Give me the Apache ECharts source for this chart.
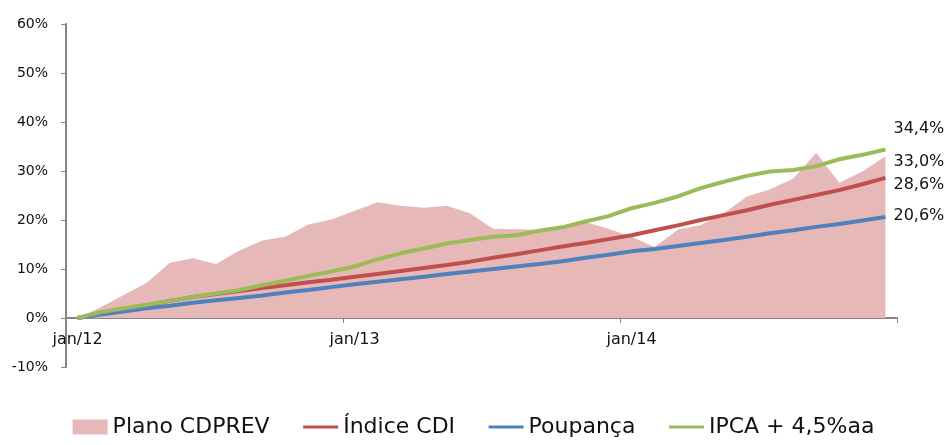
<!DOCTYPE html>
<html>
<head>
<meta charset="utf-8">
<script src="https://cdn.jsdelivr.net/npm/echarts@6/dist/echarts.min.js"></script>
<style>
  html, body { margin: 0; padding: 0; background: #fff; }
  #chart { width: 947px; height: 445px; }
</style>
</head>
<body>
<div id="chart"></div>
<script>
// meses jan/12 .. dez/14
const meses = ['jan','fev','mar','abr','mai','jun','jul','ago','set','out','nov','dez'];
const anos = ['12','13','14'];
const categorias = [];
anos.forEach(a => meses.forEach(m => categorias.push(m + '/' + a)));

// rentabilidade acumulada (%)
const planoCdprev = [0, 2.2, 4.7, 7.2, 11.3, 12.2, 11.0, 13.7, 15.8, 16.6, 19.1, 20.1,
  21.9, 23.6, 22.9, 22.5, 22.9, 21.4, 18.2, 18.1, 18.0, 18.8, 19.6, 18.2,
  16.6, 14.5, 18.0, 19.0, 21.4, 24.8, 26.3, 28.4, 33.7, 27.6, 29.9, 33.0];
const indiceCdi = [0, 0.9, 1.8, 2.6, 3.5, 4.3, 4.9, 5.5, 6.1, 6.7, 7.3, 7.8,
  8.4, 9.0, 9.6, 10.2, 10.8, 11.5, 12.3, 13.0, 13.8, 14.6, 15.3, 16.1,
  16.9, 17.9, 18.9, 20.0, 21.0, 22.0, 23.1, 24.1, 25.1, 26.1, 27.3, 28.6];
const poupanca = [0, 0.7, 1.3, 2.0, 2.5, 3.1, 3.6, 4.1, 4.6, 5.2, 5.7, 6.3,
  6.9, 7.4, 7.9, 8.4, 9.0, 9.5, 10.0, 10.5, 11.0, 11.6, 12.3, 12.9,
  13.6, 14.1, 14.7, 15.3, 15.9, 16.6, 17.3, 17.9, 18.6, 19.2, 19.9, 20.6];
const ipca = [0, 1.2, 2.0, 2.7, 3.5, 4.3, 5.0, 5.7, 6.7, 7.6, 8.6, 9.5,
  10.5, 12.0, 13.2, 14.2, 15.2, 15.9, 16.6, 16.9, 17.8, 18.5, 19.7, 20.8,
  22.4, 23.5, 24.8, 26.5, 27.8, 29.0, 29.9, 30.2, 31.0, 32.4, 33.3, 34.4];

const fonte = 'DejaVu Sans';
const fmt = v => v.toFixed(1).replace('.', ',') + '%';

const chart = echarts.init(document.getElementById('chart'));

function endLabel(dy) {
  return {
    show: true,
    formatter: p => fmt(p.value),
    offset: [2, dy],
    distance: 6,
    color: '#111',
    fontFamily: fonte,
    fontSize: 16
  };
}

// legenda: so a linha, sem o simbolo
const semSimbolo = { opacity: 0 };

const option = {
  animation: false,
  textStyle: { fontFamily: fonte },
  grid: { left: 66, right: 50, top: 24, bottom: 78, containLabel: false },
  legend: {
    bottom: 2,
    left: 'center',
    itemWidth: 35,
    itemHeight: 15,
    itemGap: 32,
    textStyle: { fontFamily: fonte, fontSize: 22, color: '#111' },
    data: [
      { name: 'Plano CDPREV', icon: 'rect' },
      { name: 'Índice CDI', itemStyle: semSimbolo, lineStyle: { width: 3 } },
      { name: 'Poupança', itemStyle: semSimbolo, lineStyle: { width: 3 } },
      { name: 'IPCA + 4,5%aa', itemStyle: semSimbolo, lineStyle: { width: 3 } }
    ]
  },
  xAxis: {
    type: 'category',
    data: categorias,
    boundaryGap: true,
    // eixo na linha do 0% (grade de 70 pontos em 343 px)
    offset: -49,
    axisLine: { onZero: false, lineStyle: { color: '#868686', width: 2 } },
    axisTick: { show: true, interval: 11, length: 5, lineStyle: { color: '#868686' } },
    axisLabel: { interval: 11, color: '#111', fontSize: 16, fontFamily: fonte, margin: 14 },
    splitLine: { show: false }
  },
  yAxis: {
    type: 'value',
    min: -10,
    max: 60,
    interval: 10,
    axisLine: { show: true, lineStyle: { color: '#868686', width: 2 } },
    axisTick: { show: true, length: 5, lineStyle: { color: '#868686' } },
    axisLabel: { formatter: '{value}%', color: '#111', fontSize: 14, fontFamily: fonte, margin: 18 },
    splitLine: { show: false }
  },
  series: [
    {
      name: 'Plano CDPREV',
      type: 'line',
      data: planoCdprev,
      color: '#E6B9B8',
      symbol: 'none',
      lineStyle: { width: 0 },
      areaStyle: { color: '#E6B9B8', opacity: 1 },
      endLabel: endLabel(6)
    },
    {
      name: 'Índice CDI',
      type: 'line',
      data: indiceCdi,
      color: '#C0504D',
      symbol: 'none',
      lineStyle: { width: 4 },
      endLabel: endLabel(7)
    },
    {
      name: 'Poupança',
      type: 'line',
      data: poupanca,
      color: '#4F81BD',
      symbol: 'none',
      lineStyle: { width: 4 },
      endLabel: endLabel(-1)
    },
    {
      name: 'IPCA + 4,5%aa',
      type: 'line',
      data: ipca,
      color: '#9BBB59',
      symbol: 'none',
      lineStyle: { width: 4 },
      endLabel: endLabel(-21)
    }
  ]
};

chart.setOption(option);
window.addEventListener('resize', chart.resize);
</script>
</body>
</html>
